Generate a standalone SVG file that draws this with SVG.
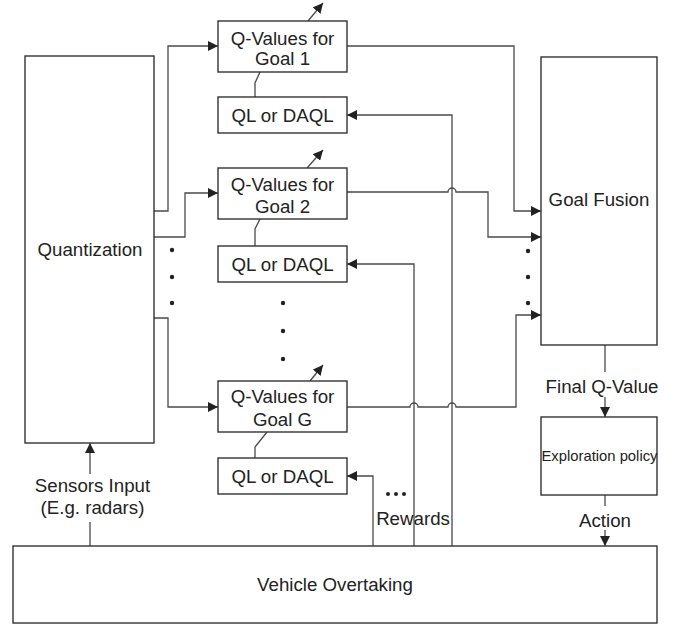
<svg xmlns="http://www.w3.org/2000/svg" width="676" height="624" viewBox="0 0 676 624">
  <style>
    .box { fill: #ffffff; stroke: #333333; stroke-width: 1.4; }
    .wire { fill: none; stroke: #4a4a4a; stroke-width: 1.3; }
    .lbl { font-family: "Liberation Sans", Arial, sans-serif; font-size: 18.7px; fill: #222222; text-anchor: middle; }
    .small { font-size: 14.8px; }
    .dot { fill: #222222; }
  </style>
  <defs>
    <marker id="arrow" viewBox="0 0 10 10" refX="10" refY="5" markerWidth="10" markerHeight="10" markerUnits="userSpaceOnUse" orient="auto">
      <path d="M0,0 L10,5 L0,10 z" fill="#222222"/>
    </marker>
  </defs>

  <rect width="676" height="624" fill="#ffffff"/>

  <!-- connectors -->
  <g id="connectors" class="wire">
    <!-- quantization to each goal's Q-values -->
    <path d="M154,211 H168 V46 H218" marker-end="url(#arrow)"/>
    <path d="M154,237 H185 V193 H218" marker-end="url(#arrow)"/>
    <path d="M154,318 H168 V407 H218" marker-end="url(#arrow)"/>

    <!-- update arrows on top of the Q-value boxes -->
    <path d="M308,21 L323,3" marker-end="url(#arrow)"/>
    <path d="M307,168 L323,150" marker-end="url(#arrow)"/>
    <path d="M310,381 L323,365" marker-end="url(#arrow)"/>

    <!-- learner to Q-values links -->
    <path d="M255,97 V83 L260,72"/>
    <path d="M255,246 V229 L260,219"/>
    <path d="M255,458 V447 L267,432"/>

    <!-- Q-values to goal fusion -->
    <path d="M347,46 H514 V211 H541" marker-end="url(#arrow)"/>
    <path d="M347,192 H448 A4,4 0 0 1 456,192 H488 V237 H541" marker-end="url(#arrow)"/>
    <path d="M347,407 H410 A4,4 0 0 1 418,407 H448 A4,4 0 0 1 456,407 H516 V315 H541" marker-end="url(#arrow)"/>

    <!-- rewards from the environment -->
    <path d="M452,546 V115 H347" marker-end="url(#arrow)"/>
    <path d="M414,546 V264 H347" marker-end="url(#arrow)"/>
    <path d="M373,546 V476 H347" marker-end="url(#arrow)"/>

    <!-- sensors input -->
    <path d="M90,546 V522"/>
    <path d="M90,474 V443" marker-end="url(#arrow)"/>

    <!-- final Q-value -->
    <path d="M605,345 V372"/>
    <path d="M605,397 V417" marker-end="url(#arrow)"/>

    <!-- action -->
    <path d="M605,495 V506"/>
    <path d="M605,530 V546" marker-end="url(#arrow)"/>
  </g>

  <!-- ellipsis dots -->
  <g id="dots">
    <circle class="dot" cx="172" cy="250" r="2.2"/>
    <circle class="dot" cx="172" cy="277" r="2.2"/>
    <circle class="dot" cx="172" cy="303" r="2.2"/>
    <circle class="dot" cx="283" cy="303" r="2.2"/>
    <circle class="dot" cx="283" cy="331" r="2.2"/>
    <circle class="dot" cx="283" cy="359" r="2.2"/>
    <circle class="dot" cx="528" cy="251" r="2.2"/>
    <circle class="dot" cx="528" cy="277" r="2.2"/>
    <circle class="dot" cx="528" cy="303" r="2.2"/>
    <circle class="dot" cx="388" cy="494" r="2"/>
    <circle class="dot" cx="396" cy="494" r="2"/>
    <circle class="dot" cx="404" cy="494" r="2"/>
  </g>

  <g id="quantization">
    <rect class="box" x="25" y="56" width="129" height="387"/>
    <text class="lbl" x="90" y="256">Quantization</text>
  </g>

  <g id="qvalues-goal-1">
    <rect class="box" x="218" y="21" width="129" height="51"/>
    <text class="lbl" x="282.5" y="44.5">Q-Values for</text>
    <text class="lbl" x="282.5" y="65">Goal 1</text>
  </g>
  <g id="learner-1">
    <rect class="box" x="218" y="97" width="129" height="36"/>
    <text class="lbl" x="282.5" y="122">QL or DAQL</text>
  </g>

  <g id="qvalues-goal-2">
    <rect class="box" x="218" y="168" width="129" height="51"/>
    <text class="lbl" x="282.5" y="190.5">Q-Values for</text>
    <text class="lbl" x="282.5" y="212.5">Goal 2</text>
  </g>
  <g id="learner-2">
    <rect class="box" x="218" y="246" width="129" height="36"/>
    <text class="lbl" x="282.5" y="271">QL or DAQL</text>
  </g>

  <g id="qvalues-goal-g">
    <rect class="box" x="218" y="381" width="129" height="51"/>
    <text class="lbl" x="282.5" y="403">Q-Values for</text>
    <text class="lbl" x="282.5" y="425.5">Goal G</text>
  </g>
  <g id="learner-g">
    <rect class="box" x="218" y="458" width="129" height="36"/>
    <text class="lbl" x="282.5" y="483">QL or DAQL</text>
  </g>

  <g id="goal-fusion">
    <rect class="box" x="541" y="57" width="116" height="288"/>
    <text class="lbl" x="599" y="206">Goal Fusion</text>
  </g>

  <g id="exploration-policy">
    <rect class="box" x="541" y="417" width="116" height="78"/>
    <text class="lbl small" x="599.5" y="461">Exploration policy</text>
  </g>

  <g id="vehicle-overtaking">
    <rect class="box" x="13" y="546" width="644" height="77"/>
    <text class="lbl" x="335" y="591">Vehicle Overtaking</text>
  </g>

  <!-- edge labels -->
  <g id="labels">
    <text class="lbl" x="92.5" y="492">Sensors Input</text>
    <text class="lbl" x="92.5" y="514">(E.g. radars)</text>
    <text class="lbl" x="602" y="393">Final Q-Value</text>
    <text class="lbl" x="605" y="527">Action</text>
    <text class="lbl" x="413" y="525">Rewards</text>
  </g>
</svg>
